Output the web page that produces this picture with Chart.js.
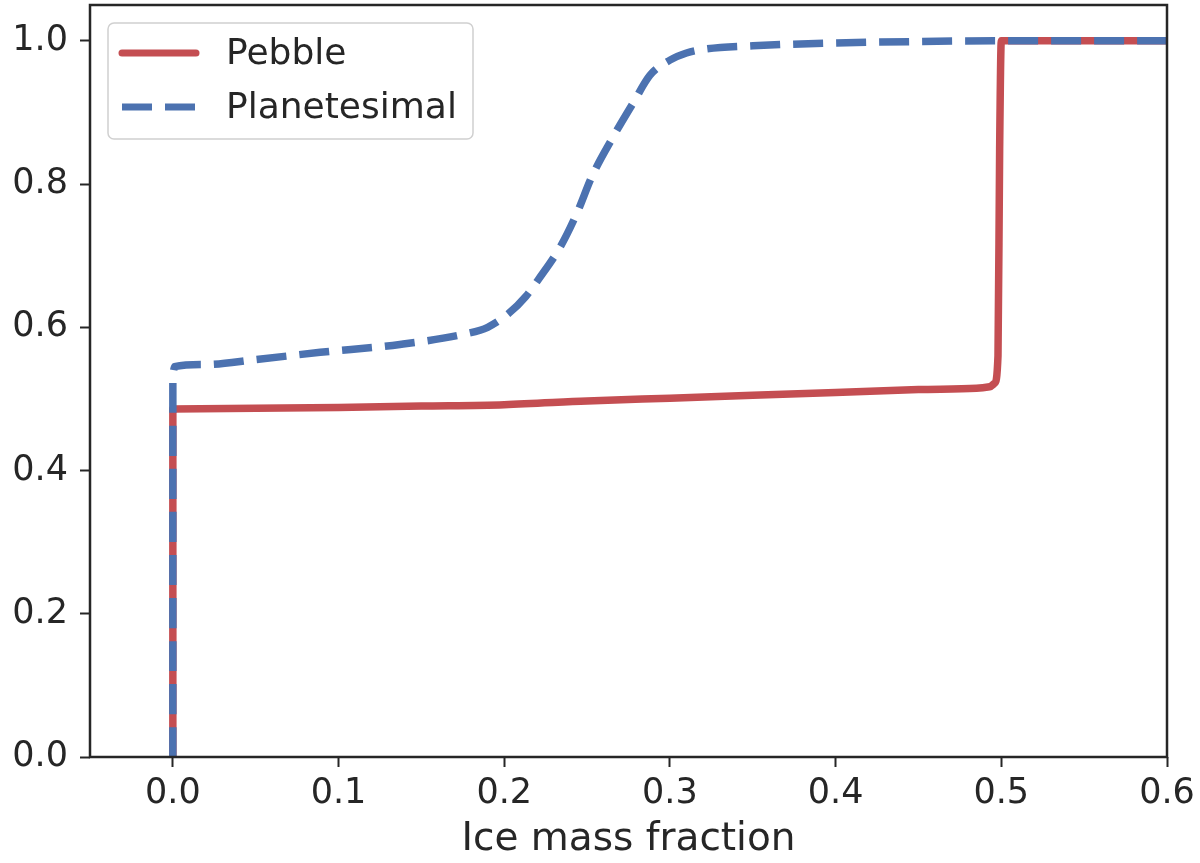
<!DOCTYPE html>
<html>
<head>
<meta charset="utf-8">
<script src="https://cdn.jsdelivr.net/npm/chart.js@4.4.1/dist/chart.umd.min.js"></script>
<style>
  html, body { margin: 0; padding: 0; background: #fff; }
  canvas { display: block; }
</style>
</head>
<body>
<canvas id="myChart" width="1200" height="863"></canvas>
<script>
// cumulative distributions
var pebbleX = [0, 0, 0.05, 0.1, 0.15, 0.2, 0.25, 0.3, 0.35, 0.4, 0.45, 0.485, 0.493, 0.496, 0.498, 0.499, 0.5, 0.6];
var pebbleY = [0, 0.486, 0.487, 0.488, 0.490, 0.492, 0.497, 0.501, 0.505, 0.509, 0.513, 0.515, 0.517, 0.522, 0.56, 0.85, 1.0, 1.0];

var planetX = [0, 0, 0.001, 0.02, 0.05, 0.089, 0.137, 0.177, 0.19, 0.203, 0.213, 0.221, 0.234, 0.244, 0.253, 0.266, 0.278, 0.288, 0.3, 0.31, 0.32, 0.35, 0.4, 0.45, 0.5, 0.6];
var planetY = [0, 0.535, 0.545, 0.548, 0.555, 0.565, 0.576, 0.591, 0.600, 0.620, 0.643, 0.668, 0.713, 0.760, 0.811, 0.867, 0.914, 0.952, 0.973, 0.983, 0.988, 0.993, 0.997, 0.999, 1.0, 1.0];

var xTicks = [0, 0.1, 0.2, 0.3, 0.4, 0.5, 0.6];
var yTicks = [0, 0.2, 0.4, 0.6, 0.8, 1.0];

var red = '#C44E52';
var blue = '#4C72B0';
var ink = '#262626';

function pts(xs, ys) {
    return xs.map(function (x, i) { return {x: x, y: ys[i]}; });
}

// frame on all four sides + legend inside the axes
var framePlugin = {
    id: 'frame',
    afterDatasetsDraw: function (chart) {
        var ctx = chart.ctx, a = chart.chartArea;
        ctx.save();
        ctx.strokeStyle = ink;
        ctx.lineWidth = 2.5;
        ctx.strokeRect(a.left, a.top, a.right - a.left, a.bottom - a.top);

        // legend box
        var lx = a.left + 18, ly = a.top + 18, lw = 365, lh = 116;
        ctx.beginPath();
        ctx.roundRect(lx, ly, lw, lh, 6);
        ctx.fillStyle = 'rgba(255,255,255,0.8)';
        ctx.fill();
        ctx.strokeStyle = '#d0d0d0';
        ctx.lineWidth = 1.5;
        ctx.stroke();

        var items = [
            {label: 'Pebble', color: red, dash: []},
            {label: 'Planetesimal', color: blue, dash: [30, 13]}
        ];
        ctx.font = '36px "DejaVu Sans"';
        ctx.textBaseline = 'middle';
        items.forEach(function (it, i) {
            var cy = ly + 30 + i * 54;
            ctx.beginPath();
            ctx.setLineDash(it.dash);
            ctx.lineCap = it.dash.length ? 'butt' : 'round';
            ctx.strokeStyle = it.color;
            ctx.lineWidth = 7;
            ctx.moveTo(lx + 14, cy);
            ctx.lineTo(lx + 88, cy);
            ctx.stroke();
            ctx.setLineDash([]);
            ctx.fillStyle = ink;
            ctx.fillText(it.label, lx + 118, cy + 2);
        });
        ctx.restore();
    }
};

var config = {
    type: 'line',
    data: {
        datasets: [{
            label: 'Pebble',
            data: pts(pebbleX, pebbleY),
            borderColor: red,
            borderWidth: 7.5,
            pointRadius: 0,
            cubicInterpolationMode: 'monotone',
            borderJoinStyle: 'round',
            borderCapStyle: 'butt',
            order: 2
        }, {
            label: 'Planetesimal',
            data: pts(planetX, planetY),
            borderColor: blue,
            borderWidth: 7.5,
            borderDash: [30, 13],
            pointRadius: 0,
            cubicInterpolationMode: 'monotone',
            order: 1
        }]
    },
    options: {
        responsive: false,
        animation: false,
        devicePixelRatio: 1,
        layout: {padding: {top: 5, right: 33, left: 0, bottom: 0}},
        plugins: {legend: {display: false}, tooltip: {enabled: false}},
        scales: {
            x: {
                type: 'linear',
                min: -0.05,
                max: 0.6,
                afterBuildTicks: function (s) { s.ticks = xTicks.map(function (v) { return {value: v}; }); },
                afterFit: function (s) { s.height = 106; s.paddingLeft = 0; s.paddingRight = 0; },
                border: {display: false},
                grid: {drawOnChartArea: false, drawTicks: true, tickLength: 10, tickWidth: 2, tickColor: ink},
                ticks: {
                    color: ink, padding: 6, maxRotation: 0,
                    font: {family: 'DejaVu Sans', size: 35},
                    callback: function (v) { return v.toFixed(1); }
                },
                title: {
                    display: true, text: 'Ice mass fraction', color: ink,
                    font: {family: 'DejaVu Sans', size: 39},
                    padding: {top: 0, bottom: 0}
                }
            },
            y: {
                min: 0,
                max: 1.05,
                afterBuildTicks: function (s) { s.ticks = yTicks.map(function (v) { return {value: v}; }); },
                afterFit: function (s) { s.width = 90; s.paddingTop = 0; s.paddingBottom = 0; },
                border: {display: false},
                grid: {drawOnChartArea: false, drawTicks: true, tickLength: 10, tickWidth: 2, tickColor: ink},
                ticks: {
                    color: ink, padding: 12,
                    font: {family: 'DejaVu Sans', size: 35},
                    callback: function (v) { return v.toFixed(1); }
                }
            }
        }
    },
    plugins: [framePlugin]
};

const ctx = document.getElementById('myChart').getContext('2d');
const myChart = new Chart(ctx, config);
</script>
</body>
</html>
